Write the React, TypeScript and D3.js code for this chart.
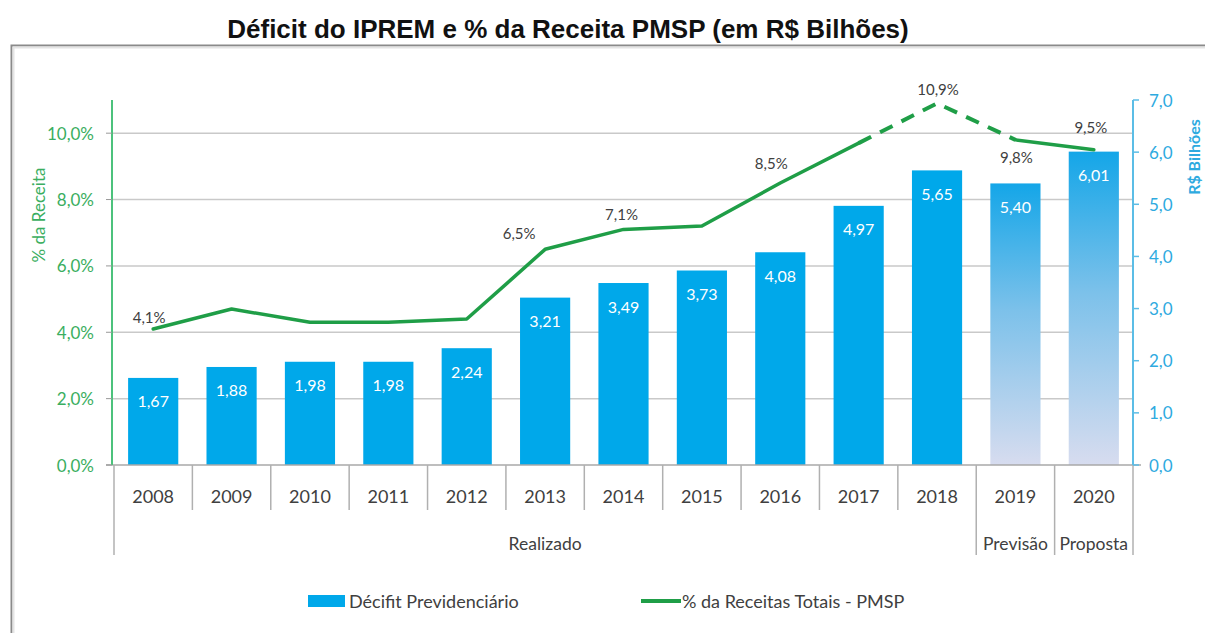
import React from "react";
import * as d3 from "d3";

const years = ["2008", "2009", "2010", "2011", "2012", "2013", "2014", "2015", "2016", "2017", "2018", "2019", "2020"];
const deficit = [1.67, 1.88, 1.98, 1.98, 2.24, 3.21, 3.49, 3.73, 4.08, 4.97, 5.65, 5.40, 6.01];
const pctReceita = [4.1, 4.7, 4.3, 4.3, 4.4, 6.5, 7.1, 7.2, 8.5, 9.7, 10.9, 9.8, 9.5];
const labeledPctYears = ["2008", "2013", "2014", "2016", "2018", "2019", "2020"];
const projectedYears = ["2019", "2020"];
const groups = [
  { label: "Realizado", from: "2008", to: "2018" },
  { label: "Previsão", from: "2019", to: "2019" },
  { label: "Proposta", from: "2020", to: "2020" },
];
const leftTicks = [0, 2, 4, 6, 8, 10];
const rightTicks = [0, 1, 2, 3, 4, 5, 6, 7];

// layout-only offsets for the percentage labels (px, relative to the point)
const pctLabelOffsets: Record<string, [number, number]> = {
  "2008": [-4, -12],
  "2013": [-26, -16],
  "2014": [-2, -15],
  "2016": [-9, -20],
  "2018": [1, -14],
  "2019": [1, 17],
  "2020": [-3, -23],
};

const loc = d3.formatLocale({ decimal: ",", thousands: ".", grouping: [3], currency: ["R$", ""] });
const f1 = loc.format(".1f");
const f2 = loc.format(".2f");

const W = 1205;
const H = 633;
const left = 114;
const right = 1133;
const top = 100;
const bottom = 465;

const FONT = "Lato, 'Open Sans', sans-serif";
const GREEN_TEXT = "#3aae60";
const BLUE_TEXT = "#2eaadf";
const BAR = "#00a8ea";
const LINE = "#1f9e47";
const GRAY_TEXT = "#404040";

export default function App() {
  const x = d3.scaleBand<string>().domain(years).range([left, right]).paddingInner(0.36).paddingOuter(0.18);
  const yL = d3.scaleLinear().domain([0, 11]).range([bottom, top]);
  const yR = d3.scaleLinear().domain([0, 7]).range([bottom, top]);
  const step = x.step();
  const bandStart = (y: string) => (x(y) as number) - step * x.paddingInner() / 2;
  const cx = (y: string) => (x(y) as number) + x.bandwidth() / 2;

  const pts = years.map((y, i) => ({ y, v: pctReceita[i], i }));
  const line = d3.line<{ y: string; v: number }>().x((d) => cx(d.y)).y((d) => yL(d.v));
  const idx2017 = years.indexOf("2017");
  const idx2019 = years.indexOf("2019");
  const solidA = pts.slice(0, idx2017 + 1);
  const dashed = pts.slice(idx2017, idx2019 + 1);
  const solidB = pts.slice(idx2019);

  const boundaries = d3.range(years.length + 1).map((k) => left + k * ((right - left) / years.length));
  const groupEdges = new Set<number>();
  groups.forEach((g) => {
    groupEdges.add(years.indexOf(g.from));
    groupEdges.add(years.indexOf(g.to) + 1);
  });

  return (
    <svg width={W} height={H} style={{ position: "absolute", left: 0, top: 0, background: "#fff" }}>
      <defs>
        <linearGradient id="projGrad" x1="0" y1="0" x2="0" y2="1">
          <stop offset="0%" stopColor="#14a6e8" />
          <stop offset="45%" stopColor="#7cc1ea" />
          <stop offset="100%" stopColor="#d7dcef" />
        </linearGradient>
      </defs>

      {/* title */}
      <text x={568} y={38} textAnchor="middle" fontFamily="'Liberation Sans', Arial, sans-serif" fontWeight="bold" fontSize={26} fill="#111">
        Déficit do IPREM e % da Receita PMSP (em R$ Bilhões)
      </text>

      {/* frame */}
      <path d={`M11.5,${H} V45.5 H${W}`} fill="none" stroke="#8a8a8a" strokeWidth={2} />
      <path d={`M13.5,${H} V47.5 H${W}`} fill="none" stroke="#e4e4e4" strokeWidth={2} />

      {/* gridlines */}
      {leftTicks.filter((t) => t > 0).map((t) => (
        <line key={t} x1={left - 2} x2={right} y1={yL(t)} y2={yL(t)} stroke="#c9c9c9" strokeWidth={1.5} />
      ))}

      {/* bars */}
      {years.map((y, i) => {
        const proj = projectedYears.includes(y);
        return (
          <rect
            key={y}
            x={x(y)}
            y={yR(deficit[i])}
            width={x.bandwidth()}
            height={bottom - yR(deficit[i])}
            fill={proj ? "url(#projGrad)" : BAR}
          />
        );
      })}
      {years.map((y, i) => (
        <text key={y} x={cx(y)} y={yR(deficit[i]) + 23} textAnchor="middle" dominantBaseline="central" fontFamily={FONT} fontSize={16} fill="#ffffff">
          {f2(deficit[i])}
        </text>
      ))}

      {/* baseline axis */}
      <line x1={left - 8} x2={right + 8} y1={bottom} y2={bottom} stroke="#a8a8a8" strokeWidth={1.5} />

      {/* category separators */}
      {boundaries.map((bx, k) => (
        <line key={k} x1={bx} x2={bx} y1={bottom} y2={groupEdges.has(k) ? 555 : 510} stroke="#b0b0b0" strokeWidth={1.5} />
      ))}
      {years.map((y) => (
        <text key={y} x={cx(y)} y={496} textAnchor="middle" dominantBaseline="central" fontFamily={FONT} fontSize={18} fill={GRAY_TEXT}>
          {y}
        </text>
      ))}
      {groups.map((g) => {
        const a = bandStart(g.from);
        const b = bandStart(g.to) + step;
        return (
          <text key={g.label} x={(a + b) / 2} y={543} textAnchor="middle" dominantBaseline="central" fontFamily={FONT} fontSize={17.5} fill={GRAY_TEXT}>
            {g.label}
          </text>
        );
      })}

      {/* left axis */}
      <line x1={left - 2} x2={left - 2} y1={top} y2={bottom} stroke="#4cc27c" strokeWidth={2} />
      {leftTicks.map((t) => (
        <g key={t}>
          <line x1={left - 8} x2={left - 2} y1={yL(t)} y2={yL(t)} stroke="#999" strokeWidth={1} />
          <text x={94} y={yL(t)} textAnchor="end" dominantBaseline="central" fontFamily={FONT} fontSize={17} fill={GREEN_TEXT}>
            {f1(t) + "%"}
          </text>
        </g>
      ))}
      <text transform={`translate(38,215) rotate(-90)`} textAnchor="middle" dominantBaseline="central" fontFamily={FONT} fontSize={17} fill={GREEN_TEXT}>
        % da Receita
      </text>

      {/* right axis */}
      <line x1={right} x2={right} y1={top} y2={bottom} stroke="#5bbde6" strokeWidth={2} />
      {rightTicks.map((t) => (
        <g key={t}>
          <line x1={right} x2={right + 6} y1={yR(t)} y2={yR(t)} stroke="#5bbde6" strokeWidth={1.5} />
          <text x={1149} y={yR(t)} textAnchor="start" dominantBaseline="central" fontFamily={FONT} fontSize={17} fill={BLUE_TEXT}>
            {f1(t)}
          </text>
        </g>
      ))}
      <text transform={`translate(1193,157) rotate(-90)`} textAnchor="middle" dominantBaseline="central" fontFamily={FONT} fontWeight="bold" fontSize={16} fill={BLUE_TEXT}>
        R$ Bilhões
      </text>

      {/* percentage line */}
      <path d={line(solidA) as string} fill="none" stroke={LINE} strokeWidth={3.5} strokeLinejoin="round" strokeLinecap="round" />
      <path d={line(dashed) as string} fill="none" stroke={LINE} strokeWidth={4} strokeDasharray="14 10" />
      <path d={line(solidB) as string} fill="none" stroke={LINE} strokeWidth={3.5} strokeLinecap="round" />
      {pts
        .filter((p) => labeledPctYears.includes(p.y))
        .map((p) => {
          const [dx, dy] = pctLabelOffsets[p.y] || [0, -14];
          return (
            <text key={p.y} x={cx(p.y) + dx} y={yL(p.v) + dy} textAnchor="middle" dominantBaseline="central" fontFamily={FONT} fontSize={15} fill={GRAY_TEXT}>
              {f1(p.v) + "%"}
            </text>
          );
        })}

      {/* legend */}
      <rect x={308} y={595} width={37} height={12} fill={BAR} />
      <text x={349} y={601} dominantBaseline="central" fontFamily={FONT} fontSize={18} fill={GRAY_TEXT}>
        Décifit Previdenciário
      </text>
      <line x1={641} x2={681} y1={601} y2={601} stroke={LINE} strokeWidth={4} />
      <text x={682} y={601} dominantBaseline="central" fontFamily={FONT} fontSize={18} fill={GRAY_TEXT}>
        % da Receitas Totais - PMSP
      </text>
    </svg>
  );
}
